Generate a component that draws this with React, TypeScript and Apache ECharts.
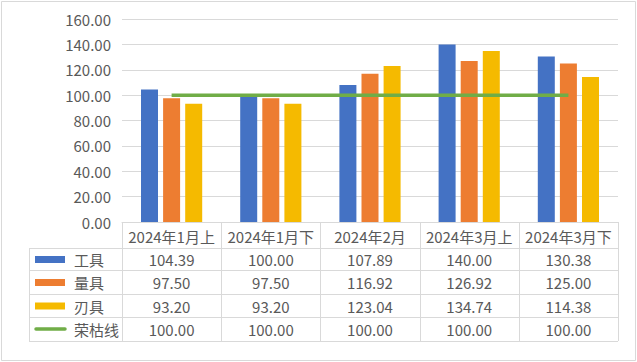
import React, { useEffect, useRef } from "react";
import * as echarts from "echarts";

const categories = ["2024年1月上", "2024年1月下", "2024年2月", "2024年3月上", "2024年3月下"];
const tools = [104.39, 100.0, 107.89, 140.0, 130.38];
const measures = [97.5, 97.5, 116.92, 126.92, 125.0];
const blades = [93.2, 93.2, 123.04, 134.74, 114.38];
const boomLine = [100, 100, 100, 100, 100];
const seriesNames = ["工具", "量具", "刃具", "荣枯线"];
const colors = ["#4472C4", "#ED7D31", "#F5BA00", "#70AD47"];

const W = 637;
const H = 362;
const FONT = "'Noto Sans CJK SC', 'Noto Sans', sans-serif";
const TXT = "#595959";
const LINE = "#D9D9D9";

export default function App() {
  const ref = useRef<HTMLDivElement>(null);
  useEffect(() => {
    document.body.style.margin = "0";
    if (!ref.current) return;
    const chart = echarts.init(ref.current, undefined, { renderer: "svg" });

    const gridLeft = 122;
    const gridTop = 19;
    const gridRight = 618;
    const gridBottom = 222;
    const colW = (gridRight - gridLeft) / categories.length;
    const rowEdges = [222, 248, 270, 294, 317, 341];
    const keyLeft = 29;
    const values = [tools, measures, blades, boomLine];

    const graphics: any[] = [];
    // outer border
    graphics.push({
      type: "rect",
      shape: { x: 1.5, y: 1.5, width: 634, height: 359 },
      style: { fill: "none", stroke: LINE, lineWidth: 1 },
      silent: true,
    });
    // horizontal table lines (below axis)
    for (let r = 1; r < rowEdges.length; r++) {
      graphics.push({
        type: "line",
        shape: { x1: keyLeft, y1: rowEdges[r] + 0.5, x2: gridRight, y2: rowEdges[r] + 0.5 },
        style: { stroke: LINE, lineWidth: 1 },
      });
    }
    // vertical lines
    graphics.push({
      type: "line",
      shape: { x1: keyLeft + 0.5, y1: rowEdges[1], x2: keyLeft + 0.5, y2: rowEdges[5] },
      style: { stroke: LINE, lineWidth: 1 },
    });
    for (let c = 0; c <= categories.length; c++) {
      const x = Math.round(gridLeft + c * colW) + 0.5;
      graphics.push({
        type: "line",
        shape: { x1: x, y1: rowEdges[0], x2: x, y2: rowEdges[5] },
        style: { stroke: LINE, lineWidth: 1 },
      });
    }
    // category row
    categories.forEach((cat, c) => {
      graphics.push({
        type: "text",
        x: gridLeft + (c + 0.5) * colW,
        y: (rowEdges[0] + rowEdges[1]) / 2 + 1,
        style: { text: cat, fill: TXT, font: `15px ${FONT}`, align: "center", verticalAlign: "middle" },
      });
    });
    // rows
    values.forEach((vals, r) => {
      const cy = (rowEdges[r + 1] + rowEdges[r + 2]) / 2 + 0.5;
      if (r < 3) {
        graphics.push({
          type: "rect",
          shape: { x: 35, y: cy - 3.5, width: 30, height: 7 },
          style: { fill: colors[r] },
        });
      } else {
        graphics.push({
          type: "line",
          shape: { x1: 36, y1: cy - 0.5, x2: 65, y2: cy - 0.5 },
          style: { stroke: colors[r], lineWidth: 3.5, lineCap: "round" },
        });
      }
      graphics.push({
        type: "text",
        x: 74,
        y: cy,
        style: { text: seriesNames[r], fill: TXT, font: `15px ${FONT}`, align: "left", verticalAlign: "middle" },
      });
      vals.forEach((v, c) => {
        graphics.push({
          type: "text",
          x: gridLeft + (c + 0.5) * colW,
          y: cy,
          style: { text: v.toFixed(2), fill: TXT, font: `15px ${FONT}`, align: "center", verticalAlign: "middle" },
        });
      });
    });

    chart.setOption({
      animation: false,
      backgroundColor: "#FFFFFF",
      textStyle: { fontFamily: FONT },
      grid: { left: gridLeft, top: gridTop, width: gridRight - gridLeft, height: gridBottom - gridTop, containLabel: false },
      xAxis: {
        type: "category",
        data: categories,
        axisLine: { show: true, lineStyle: { color: LINE, width: 1 } },
        axisTick: { show: false },
        axisLabel: { show: false },
        splitLine: { show: false },
      },
      yAxis: {
        type: "value",
        min: 0,
        max: 160,
        interval: 20,
        axisLine: { show: false },
        axisTick: { show: false },
        axisLabel: {
          color: TXT,
          fontSize: 15,
          fontFamily: FONT,
          margin: 11,
          formatter: (v: number) => v.toFixed(2),
        },
        splitLine: { lineStyle: { color: LINE, width: 1 } },
      },
      series: [
        { name: seriesNames[0], type: "bar", data: tools, barWidth: 17, barGap: "30%", itemStyle: { color: colors[0] } },
        { name: seriesNames[1], type: "bar", data: measures, barWidth: 17, barGap: "30%", itemStyle: { color: colors[1] } },
        { name: seriesNames[2], type: "bar", data: blades, barWidth: 17, barGap: "30%", itemStyle: { color: colors[2] } },
        {
          name: seriesNames[3],
          type: "line",
          data: boomLine,
          symbol: "none",
          z: 5,
          lineStyle: { color: colors[3], width: 3.5 },
        },
      ],
      graphic: graphics,
    });
    return () => chart.dispose();
  }, []);
  return <div ref={ref} style={{ width: W, height: H }} />;
}
